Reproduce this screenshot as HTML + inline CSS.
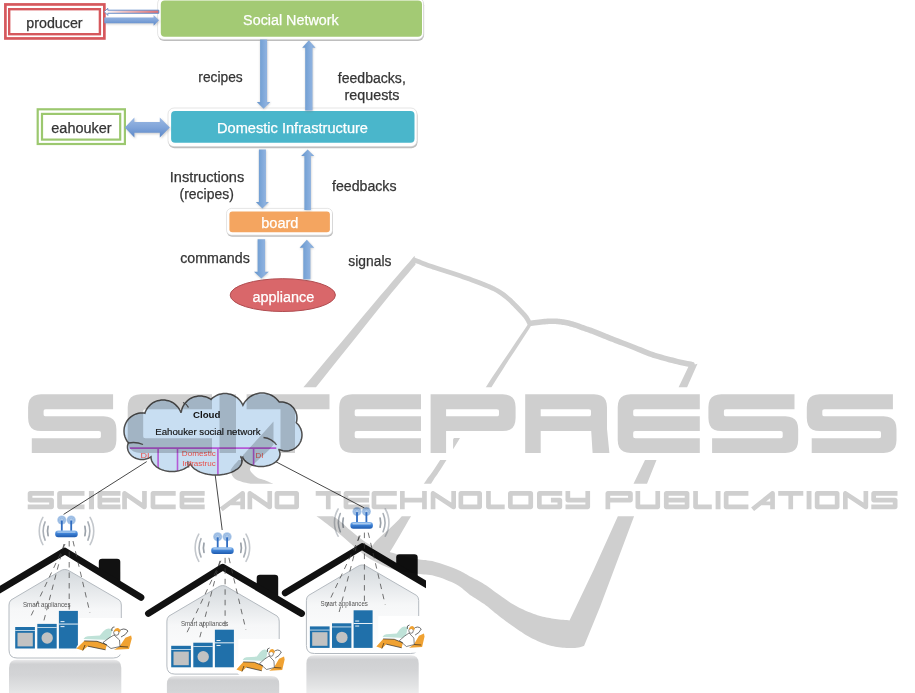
<!DOCTYPE html>
<html><head><meta charset="utf-8"><title>figure</title>
<style>
html,body{margin:0;padding:0;background:#fff;}
body{width:915px;height:693px;overflow:hidden;position:relative;}
svg{position:absolute;left:0;top:0;display:block;}
text{font-family:"Liberation Sans",sans-serif;}
#wm{mix-blend-mode:multiply;}
</style></head>
<body>
<svg width="915" height="693" viewBox="0 0 915 693">
<defs>
<filter id="blur1" x="-20%" y="-20%" width="140%" height="140%"><feGaussianBlur stdDeviation="0.8"/></filter>
<filter id="blur06" x="-20%" y="-20%" width="140%" height="140%"><feGaussianBlur stdDeviation="0.6"/></filter>
<linearGradient id="gArrV" x1="0" y1="0" x2="1" y2="0">
  <stop offset="0" stop-color="#6593CC"/><stop offset="0.3" stop-color="#76A2D5"/><stop offset="0.7" stop-color="#8DB1DF"/><stop offset="0.9" stop-color="#80A9DA"/><stop offset="1" stop-color="#6E9AD0"/>
</linearGradient>
<linearGradient id="gArrH" x1="0" y1="0" x2="0" y2="1">
  <stop offset="0" stop-color="#9CB9E3"/><stop offset="0.5" stop-color="#80A4D9"/><stop offset="1" stop-color="#5A87C8"/>
</linearGradient>
<linearGradient id="gArrPink" x1="0" y1="0" x2="1" y2="0">
  <stop offset="0" stop-color="#ffffff"/><stop offset="0.35" stop-color="#F2C4C4"/><stop offset="1" stop-color="#DE6F72"/>
</linearGradient>

<linearGradient id="gRouter" x1="0" y1="0" x2="0" y2="1">
  <stop offset="0" stop-color="#8DBBEE"/><stop offset="0.45" stop-color="#3E82D6"/><stop offset="1" stop-color="#1E5AAE"/>
</linearGradient>
<linearGradient id="gBody" x1="0" y1="0" x2="0" y2="1">
  <stop offset="0" stop-color="#D3D8DC"/><stop offset="0.45" stop-color="#F6F7F8"/><stop offset="1" stop-color="#FFFFFF"/>
</linearGradient>
<linearGradient id="gRefl" x1="0" y1="0" x2="0" y2="1">
  <stop offset="0" stop-color="#E9E9EA"/><stop offset="0.1" stop-color="#CFD0D2"/><stop offset="0.35" stop-color="#D3D4D6"/><stop offset="0.7" stop-color="#E2E3E4"/><stop offset="1" stop-color="#F3F3F3"/>
</linearGradient>
</defs>
<g id="top">
<rect x="5.4" y="4.45" width="98.95" height="34" fill="none" stroke="#D6585D" stroke-width="2.7"/>
<rect x="9.2" y="9.2" width="90.7" height="25" fill="none" stroke="#D6585D" stroke-width="2.4"/>
<rect x="158.1" y="-0.7" width="266" height="41.7" rx="6" fill="#8a8a8a" opacity="0.55" filter="url(#blur06)"/>
<rect x="157.6" y="-2.3" width="266" height="41.7" rx="6" fill="#fff" stroke="#D4D4D4" stroke-width="0.6"/>
<rect x="160.8" y="0.6" width="261.2" height="36.1" rx="4" fill="#A3CA74"/>
<rect x="37.7" y="109.3" width="87.2" height="34.7" fill="none" stroke="#9CC86F" stroke-width="2.2"/>
<rect x="42.0" y="113.9" width="78.2" height="25.7" fill="none" stroke="#9CC86F" stroke-width="2.2"/>
<rect x="168.5" y="109.6" width="249" height="38.6" rx="6" fill="#8a8a8a" opacity="0.55" filter="url(#blur06)"/>
<rect x="168" y="108" width="249" height="38.6" rx="6" fill="#fff" stroke="#D4D4D4" stroke-width="0.6"/>
<rect x="171.1" y="110.9" width="243.4" height="31.9" rx="4" fill="#4AB6CB"/>
<rect x="227.0" y="210.0" width="106" height="26.8" rx="5" fill="#8a8a8a" opacity="0.55" filter="url(#blur06)"/>
<rect x="226.5" y="208.4" width="106" height="26.8" rx="5" fill="#fff" stroke="#D4D4D4" stroke-width="0.6"/>
<rect x="229.4" y="211.4" width="100.5" height="20.9" rx="3" fill="#F4A560"/>
<ellipse cx="282.8" cy="295.1" rx="52.6" ry="16.4" fill="#D9676A" stroke="#B04C50" stroke-width="1"/>
<polygon points="104.3,11.7 107.8,8.3 107.8,10.2 158.8,10.2 158.8,13.3 107.8,13.3 107.8,15.4" fill="url(#gArrPink)" stroke="#5B86C5" stroke-width="0.9"/>
<polygon points="105.3,18.5 154.6,18.5 154.6,16 160,21.3 154.6,26.7 154.6,24.2 105.3,24.2" fill="#777" opacity="0.35" filter="url(#blur1)"/>
<polygon points="104.3,17.5 153.6,17.5 153.6,15 159,20.3 153.6,25.7 153.6,23.2 104.3,23.2" fill="url(#gArrH)"/>
<polygon points="260.40,40.40 267.40,40.40 267.40,102.70 270.65,102.70 263.90,109.60 257.15,102.70 260.40,102.70" fill="#7a7a7a" opacity="0.4" filter="url(#blur1)"/><polygon points="260.10,39.60 267.10,39.60 267.10,101.90 270.35,101.90 263.60,108.80 256.85,101.90 260.10,101.90" fill="url(#gArrV)"/>
<polygon points="305.50,111.40 312.80,111.40 312.80,48.50 315.80,48.50 309.15,41.00 302.50,48.50 305.50,48.50" fill="#7a7a7a" opacity="0.4" filter="url(#blur1)"/><polygon points="305.20,110.60 312.50,110.60 312.50,47.70 315.50,47.70 308.85,40.20 302.20,47.70 305.20,47.70" fill="url(#gArrV)"/>
<polygon points="124.8,127.5 134.4,117.5 134.4,121.9 159.8,121.9 159.8,117.5 169.8,127.5 159.8,137.6 159.8,132.8 134.4,132.8 134.4,137.6" fill="#777" opacity="0.35" transform="translate(1,1.2)" filter="url(#blur1)"/>
<polygon points="124.8,127.5 134.4,117.5 134.4,121.9 159.8,121.9 159.8,117.5 169.8,127.5 159.8,137.6 159.8,132.8 134.4,132.8 134.4,137.6" fill="url(#gArrH)"/>
<polygon points="259.20,150.20 266.20,150.20 266.20,202.80 269.20,202.80 262.70,209.30 256.20,202.80 259.20,202.80" fill="#7a7a7a" opacity="0.4" filter="url(#blur1)"/><polygon points="258.90,149.40 265.90,149.40 265.90,202.00 268.90,202.00 262.40,208.50 255.90,202.00 258.90,202.00" fill="url(#gArrV)"/>
<polygon points="304.70,210.80 311.20,210.80 311.20,156.70 314.45,156.70 307.95,150.20 301.45,156.70 304.70,156.70" fill="#7a7a7a" opacity="0.4" filter="url(#blur1)"/><polygon points="304.40,210.00 310.90,210.00 310.90,155.90 314.15,155.90 307.65,149.40 301.15,155.90 304.40,155.90" fill="url(#gArrV)"/>
<polygon points="257.90,240.10 265.40,240.10 265.40,272.50 269.00,272.50 261.65,279.30 254.30,272.50 257.90,272.50" fill="#7a7a7a" opacity="0.4" filter="url(#blur1)"/><polygon points="257.60,239.30 265.10,239.30 265.10,271.70 268.70,271.70 261.35,278.50 254.00,271.70 257.60,271.70" fill="url(#gArrV)"/>
<polygon points="303.60,280.00 310.70,280.00 310.70,248.60 314.40,248.60 307.15,240.60 299.90,248.60 303.60,248.60" fill="#7a7a7a" opacity="0.4" filter="url(#blur1)"/><polygon points="303.30,279.20 310.40,279.20 310.40,247.80 314.10,247.80 306.85,239.80 299.60,247.80 303.30,247.80" fill="url(#gArrV)"/>
<text x="26.30" y="27.50" font-size="14" fill="#353535" stroke="#353535" stroke-width="0.25" font-weight="normal" textLength="56.30" lengthAdjust="spacingAndGlyphs">producer</text>
<text x="243.10" y="24.80" font-size="14" fill="#ffffff" stroke="#ffffff" stroke-width="0.25" font-weight="normal" textLength="95.60" lengthAdjust="spacingAndGlyphs">Social Network</text>
<text x="198.30" y="81.60" font-size="14" fill="#353535" stroke="#353535" stroke-width="0.25" font-weight="normal" textLength="44.40" lengthAdjust="spacingAndGlyphs">recipes</text>
<text x="337.80" y="82.80" font-size="14" fill="#353535" stroke="#353535" stroke-width="0.25" font-weight="normal" textLength="68.00" lengthAdjust="spacingAndGlyphs">feedbacks,</text>
<text x="344.60" y="100.30" font-size="14" fill="#353535" stroke="#353535" stroke-width="0.25" font-weight="normal" textLength="54.90" lengthAdjust="spacingAndGlyphs">requests</text>
<text x="51.30" y="132.80" font-size="14" fill="#353535" stroke="#353535" stroke-width="0.25" font-weight="normal" textLength="60.40" lengthAdjust="spacingAndGlyphs">eahouker</text>
<text x="217.00" y="133.00" font-size="14" fill="#ffffff" stroke="#ffffff" stroke-width="0.25" font-weight="normal" textLength="151.00" lengthAdjust="spacingAndGlyphs">Domestic Infrastructure</text>
<text x="169.80" y="181.90" font-size="14" fill="#353535" stroke="#353535" stroke-width="0.25" font-weight="normal" textLength="74.40" lengthAdjust="spacingAndGlyphs">Instructions</text>
<text x="179.60" y="198.80" font-size="14" fill="#353535" stroke="#353535" stroke-width="0.25" font-weight="normal" textLength="54.20" lengthAdjust="spacingAndGlyphs">(recipes)</text>
<text x="332.00" y="190.70" font-size="14" fill="#353535" stroke="#353535" stroke-width="0.25" font-weight="normal" textLength="64.50" lengthAdjust="spacingAndGlyphs">feedbacks</text>
<text x="261.20" y="227.70" font-size="14" fill="#ffffff" stroke="#ffffff" stroke-width="0.25" font-weight="normal" textLength="37.30" lengthAdjust="spacingAndGlyphs">board</text>
<text x="180.20" y="262.70" font-size="14" fill="#353535" stroke="#353535" stroke-width="0.25" font-weight="normal" textLength="69.60" lengthAdjust="spacingAndGlyphs">commands</text>
<text x="348.30" y="265.70" font-size="14" fill="#353535" stroke="#353535" stroke-width="0.25" font-weight="normal" textLength="43.10" lengthAdjust="spacingAndGlyphs">signals</text>
<text x="252.40" y="301.70" font-size="14" fill="#ffffff" stroke="#ffffff" stroke-width="0.25" font-weight="normal" textLength="61.80" lengthAdjust="spacingAndGlyphs">appliance</text>
</g>
<g id="bottom">
<clipPath id="photoClip"><rect x="0" y="372" width="426" height="321"/></clipPath>
<g clip-path="url(#photoClip)">
<g stroke="#333" stroke-width="0.9" fill="none"><path d="M146.7,461.6 L63.6,514.4"/><path d="M215.2,474.9 L222.2,530"/><path d="M273.3,460.4 L364.7,508.1"/></g>
<path d="M166.9,684.1 Q166.9,675.9 174.9,675.9 H271.2 Q279.2,675.9 279.2,684.1 V719.1 H166.9Z" fill="url(#gRefl)"/>
<path d="M217.7,587.3 Q222.7,583.8 227.7,587.3 L277.2,616.1 Q279.2,618.1 279.2,621.1 V666.1 Q279.2,674.1 271.2,674.1 H174.9 Q166.9,674.1 166.9,666.1 V621.1 Q166.9,618.1 168.9,616.1 Z" fill="url(#gBody)" stroke="#B4BAC0" stroke-width="1"/>
<path d="M256.7,587.1 V578.1 Q256.7,574.8 260.0,574.8 H274.9 Q278.2,574.8 278.2,578.1 V599.7Z" fill="#111"/>
<path d="M148.4,613.5 L222.7,567.1 L301.6,613.5" stroke="#111" stroke-width="6.7" fill="none" stroke-linecap="round" stroke-linejoin="round"/>
<path d="M220.9,560.8 L185.9,634.8" stroke="#444" stroke-width="0.75" stroke-dasharray="5.5,5" fill="none"/>
<path d="M219.9,560.8 L198.9,640.8" stroke="#444" stroke-width="0.75" stroke-dasharray="5.5,5" fill="none"/>
<path d="M225.1,557.8 L225.1,628.8" stroke="#444" stroke-width="0.75" stroke-dasharray="5.5,5" fill="none"/>
<path d="M228.9,557.8 L245.9,629.8" stroke="#444" stroke-width="0.75" stroke-dasharray="5.5,5" fill="none"/>
<text x="180.9" y="626.3" font-size="7.6" fill="#555" textLength="47.5" lengthAdjust="spacingAndGlyphs">Smart appliances</text>
<g><rect x="171.2" y="645.8" width="19.7" height="21.5" fill="#2070AA"/><rect x="173.5" y="651.6" width="15.3" height="13.6" fill="#C2C2C2"/><rect x="171.2" y="649.1" width="19.7" height="0.7" fill="#fff"/><rect x="193.3" y="642.7" width="19.4" height="24.6" fill="#2070AA"/><rect x="193.3" y="646.0" width="19.4" height="0.7" fill="#fff"/><circle cx="203.2" cy="656.8" r="5.7" fill="#C2C2C2"/><rect x="214.9" y="629.7" width="19" height="37.6" fill="#2070AA"/><rect x="214.9" y="642.4" width="19" height="0.9" fill="#fff"/><rect x="216.5" y="640.0" width="4" height="0.9" fill="#fff"/><rect x="216.5" y="645.0" width="4" height="0.9" fill="#fff"/></g>
<g transform="translate(236.1,659.0) scale(0.87,1)"><path d="M2.6,-20 H57 V15 Q50,18 40,16 H4 Q0,14 0.5,9 L2.6,6 Z" fill="#fff"/><path d="M7.5,1 Q9,-1.5 11.8,-1.7 L23.8,-2.4 L27.4,-6.7 Q30,-9.5 32.4,-9.5 L36.6,-8.8 L33.8,1.9 Z" fill="#BFE2D8"/><path d="M0.4,10.4 L8.2,2.9 L21,3.3 L30.9,6.8 L29.5,11.8 L11.8,8.2 L6.8,12.5 Z" fill="#F0A232"/><path d="M38,11.8 L43.7,8.2 L49.4,-0.3 L55.1,-2.4 L55.8,0.4 L53,11.1 Z" fill="#F0A232"/><path d="M27,4.5 L33,0 L38,-3 L43.5,2 L44,8.5 L35,10.5 Z" fill="#fff" stroke="#222" stroke-width="0.6"/><path d="M8.2,2.9 L21,3.3 L30.9,6.8 M11.8,8.2 L29.5,11.8 M6.8,12.5 L9,7 M36,-7 Q35,-11 38.5,-11 M43,-7 Q48,-11 52,-7 Q50,-3 45,-1 M44,8.5 L52,9" stroke="#222" stroke-width="0.7" fill="none"/><circle cx="40.3" cy="-5.3" r="2.6" fill="#fff" stroke="#222" stroke-width="0.6"/><path d="M37.8,-7 Q39,-10.5 42.5,-9.8 Q45,-8.5 44,-5.5 Q42,-8 38.5,-6.5 Z" fill="#F0A232"/></g>
<path d="M204.0,543.2 A19.0,19.0 0 0 0 204.0,552.4" stroke="#9AA1A9" stroke-width="1.7" fill="none" stroke-linecap="round"/>
<path d="M240.8,543.2 A19.0,19.0 0 0 1 240.8,552.4" stroke="#9AA1A9" stroke-width="1.7" fill="none" stroke-linecap="round"/>
<path d="M201.0,538.7 A23.2,23.2 0 0 0 201.0,556.9" stroke="#A9AFB6" stroke-width="1.6" fill="none" stroke-linecap="round"/>
<path d="M243.8,538.7 A23.2,23.2 0 0 1 243.8,556.9" stroke="#A9AFB6" stroke-width="1.6" fill="none" stroke-linecap="round"/>
<path d="M198.8,534.2 A27.2,27.2 0 0 0 198.8,561.4" stroke="#C3C7CC" stroke-width="1.6" fill="none" stroke-linecap="round"/>
<path d="M246.0,534.2 A27.2,27.2 0 0 1 246.0,561.4" stroke="#C3C7CC" stroke-width="1.6" fill="none" stroke-linecap="round"/>
<circle cx="217.7" cy="536.8" r="4.6" fill="#B3CDEB"/>
<circle cx="217.7" cy="536.8" r="3.4" fill="none" stroke="#86ADDC" stroke-width="0.7"/>
<circle cx="217.7" cy="536.8" r="2.0" fill="none" stroke="#86ADDC" stroke-width="0.7"/>
<rect x="216.8" y="537.3" width="1.8" height="10.5" fill="#2F6CC0"/>
<circle cx="227.1" cy="536.8" r="4.6" fill="#B3CDEB"/>
<circle cx="227.1" cy="536.8" r="3.4" fill="none" stroke="#86ADDC" stroke-width="0.7"/>
<circle cx="227.1" cy="536.8" r="2.0" fill="none" stroke="#86ADDC" stroke-width="0.7"/>
<rect x="226.2" y="537.3" width="1.8" height="10.5" fill="#2F6CC0"/>
<rect x="211.2" y="547.2" width="22.5" height="6.8" rx="3" fill="url(#gRouter)"/>
<rect x="213.2" y="548.2" width="18.5" height="1.4" rx="0.7" fill="#B9D4F2" opacity="0.8"/>
<path d="M9.0,668.0 Q9.0,659.8 17.0,659.8 H113.3 Q121.3,659.8 121.3,668.0 V703.0 H9.0Z" fill="url(#gRefl)"/>
<path d="M59.8,571.2 Q64.8,567.7 69.8,571.2 L119.3,600.0 Q121.3,602.0 121.3,605.0 V650.0 Q121.3,658.0 113.3,658.0 H17.0 Q9.0,658.0 9.0,650.0 V605.0 Q9.0,602.0 11.0,600.0 Z" fill="url(#gBody)" stroke="#B4BAC0" stroke-width="1"/>
<path d="M98.8,571.7 V562.0 Q98.8,558.7 102.1,558.7 H117.0 Q120.3,558.7 120.3,562.0 V584.8Z" fill="#111"/>
<path d="M-13.2,597.4 L64.8,551.0 L141.0,597.4" stroke="#111" stroke-width="6.7" fill="none" stroke-linecap="round" stroke-linejoin="round"/>
<path d="M65.0,544.0 L30.0,618.0" stroke="#444" stroke-width="0.75" stroke-dasharray="5.5,5" fill="none"/>
<path d="M64.0,544.0 L43.0,624.0" stroke="#444" stroke-width="0.75" stroke-dasharray="5.5,5" fill="none"/>
<path d="M69.2,541.0 L69.2,612.0" stroke="#444" stroke-width="0.75" stroke-dasharray="5.5,5" fill="none"/>
<path d="M73.0,541.0 L90.0,613.0" stroke="#444" stroke-width="0.75" stroke-dasharray="5.5,5" fill="none"/>
<text x="23.0" y="606.7" font-size="7.6" fill="#555" textLength="47.5" lengthAdjust="spacingAndGlyphs">Smart appliances</text>
<g><rect x="15.2" y="627.0" width="19.7" height="21.5" fill="#2070AA"/><rect x="17.5" y="632.8" width="15.3" height="13.6" fill="#C2C2C2"/><rect x="15.2" y="630.3" width="19.7" height="0.7" fill="#fff"/><rect x="37.3" y="623.9" width="19.4" height="24.6" fill="#2070AA"/><rect x="37.3" y="627.2" width="19.4" height="0.7" fill="#fff"/><circle cx="47.2" cy="638.0" r="5.7" fill="#C2C2C2"/><rect x="58.9" y="610.9" width="19" height="37.6" fill="#2070AA"/><rect x="58.9" y="623.6" width="19" height="0.9" fill="#fff"/><rect x="60.5" y="621.2" width="4" height="0.9" fill="#fff"/><rect x="60.5" y="626.2" width="4" height="0.9" fill="#fff"/></g>
<g transform="translate(76.0,638.0) scale(1.0,1)"><path d="M2.6,-20 H57 V15 Q50,18 40,16 H4 Q0,14 0.5,9 L2.6,6 Z" fill="#fff"/><path d="M7.5,1 Q9,-1.5 11.8,-1.7 L23.8,-2.4 L27.4,-6.7 Q30,-9.5 32.4,-9.5 L36.6,-8.8 L33.8,1.9 Z" fill="#BFE2D8"/><path d="M0.4,10.4 L8.2,2.9 L21,3.3 L30.9,6.8 L29.5,11.8 L11.8,8.2 L6.8,12.5 Z" fill="#F0A232"/><path d="M38,11.8 L43.7,8.2 L49.4,-0.3 L55.1,-2.4 L55.8,0.4 L53,11.1 Z" fill="#F0A232"/><path d="M27,4.5 L33,0 L38,-3 L43.5,2 L44,8.5 L35,10.5 Z" fill="#fff" stroke="#222" stroke-width="0.6"/><path d="M8.2,2.9 L21,3.3 L30.9,6.8 M11.8,8.2 L29.5,11.8 M6.8,12.5 L9,7 M36,-7 Q35,-11 38.5,-11 M43,-7 Q48,-11 52,-7 Q50,-3 45,-1 M44,8.5 L52,9" stroke="#222" stroke-width="0.7" fill="none"/><circle cx="40.3" cy="-5.3" r="2.6" fill="#fff" stroke="#222" stroke-width="0.6"/><path d="M37.8,-7 Q39,-10.5 42.5,-9.8 Q45,-8.5 44,-5.5 Q42,-8 38.5,-6.5 Z" fill="#F0A232"/></g>
<path d="M48.1,526.4 A19.0,19.0 0 0 0 48.1,535.6" stroke="#9AA1A9" stroke-width="1.7" fill="none" stroke-linecap="round"/>
<path d="M84.9,526.4 A19.0,19.0 0 0 1 84.9,535.6" stroke="#9AA1A9" stroke-width="1.7" fill="none" stroke-linecap="round"/>
<path d="M45.1,521.9 A23.2,23.2 0 0 0 45.1,540.1" stroke="#A9AFB6" stroke-width="1.6" fill="none" stroke-linecap="round"/>
<path d="M87.9,521.9 A23.2,23.2 0 0 1 87.9,540.1" stroke="#A9AFB6" stroke-width="1.6" fill="none" stroke-linecap="round"/>
<path d="M42.9,517.4 A27.2,27.2 0 0 0 42.9,544.6" stroke="#C3C7CC" stroke-width="1.6" fill="none" stroke-linecap="round"/>
<path d="M90.1,517.4 A27.2,27.2 0 0 1 90.1,544.6" stroke="#C3C7CC" stroke-width="1.6" fill="none" stroke-linecap="round"/>
<circle cx="61.8" cy="520.0" r="4.6" fill="#B3CDEB"/>
<circle cx="61.8" cy="520.0" r="3.4" fill="none" stroke="#86ADDC" stroke-width="0.7"/>
<circle cx="61.8" cy="520.0" r="2.0" fill="none" stroke="#86ADDC" stroke-width="0.7"/>
<rect x="60.9" y="520.5" width="1.8" height="10.5" fill="#2F6CC0"/>
<circle cx="71.2" cy="520.0" r="4.6" fill="#B3CDEB"/>
<circle cx="71.2" cy="520.0" r="3.4" fill="none" stroke="#86ADDC" stroke-width="0.7"/>
<circle cx="71.2" cy="520.0" r="2.0" fill="none" stroke="#86ADDC" stroke-width="0.7"/>
<rect x="70.3" y="520.5" width="1.8" height="10.5" fill="#2F6CC0"/>
<rect x="55.2" y="530.4" width="22.5" height="6.8" rx="3" fill="url(#gRouter)"/>
<rect x="57.2" y="531.4" width="18.5" height="1.4" rx="0.7" fill="#B9D4F2" opacity="0.8"/>
<path d="M306.4,663.5 Q306.4,655.3 314.4,655.3 H410.7 Q418.7,655.3 418.7,663.5 V698.5 H306.4Z" fill="url(#gRefl)"/>
<path d="M357.2,566.7 Q362.2,563.2 367.2,566.7 L416.7,595.5 Q418.7,597.5 418.7,600.5 V645.5 Q418.7,653.5 410.7,653.5 H314.4 Q306.4,653.5 306.4,645.5 V600.5 Q306.4,597.5 308.4,595.5 Z" fill="url(#gBody)" stroke="#B4BAC0" stroke-width="1"/>
<path d="M396.2,566.7 V557.5 Q396.2,554.2 399.5,554.2 H414.4 Q417.7,554.2 417.7,557.5 V579.5Z" fill="#111"/>
<path d="M285.2,592.9 L362.2,546.5 L440.2,592.9" stroke="#111" stroke-width="6.7" fill="none" stroke-linecap="round" stroke-linejoin="round"/>
<path d="M360.2,535.6 L325.2,609.6" stroke="#444" stroke-width="0.75" stroke-dasharray="5.5,5" fill="none"/>
<path d="M359.2,535.6 L338.2,615.6" stroke="#444" stroke-width="0.75" stroke-dasharray="5.5,5" fill="none"/>
<path d="M364.4,532.6 L364.4,603.6" stroke="#444" stroke-width="0.75" stroke-dasharray="5.5,5" fill="none"/>
<path d="M368.2,532.6 L385.2,604.6" stroke="#444" stroke-width="0.75" stroke-dasharray="5.5,5" fill="none"/>
<text x="320.4" y="606.3" font-size="7.6" fill="#555" textLength="47.5" lengthAdjust="spacingAndGlyphs">Smart appliances</text>
<g><rect x="309.9" y="626.4" width="19.7" height="21.5" fill="#2070AA"/><rect x="312.2" y="632.2" width="15.3" height="13.6" fill="#C2C2C2"/><rect x="309.9" y="629.7" width="19.7" height="0.7" fill="#fff"/><rect x="332.0" y="623.3" width="19.4" height="24.6" fill="#2070AA"/><rect x="332.0" y="626.6" width="19.4" height="0.7" fill="#fff"/><circle cx="341.9" cy="637.4" r="5.7" fill="#C2C2C2"/><rect x="353.6" y="610.3" width="19" height="37.6" fill="#2070AA"/><rect x="353.6" y="623.0" width="19" height="0.9" fill="#fff"/><rect x="355.2" y="620.6" width="4" height="0.9" fill="#fff"/><rect x="355.2" y="625.6" width="4" height="0.9" fill="#fff"/></g>
<g transform="translate(376.0,636.0) scale(0.87,1)"><path d="M2.6,-20 H57 V15 Q50,18 40,16 H4 Q0,14 0.5,9 L2.6,6 Z" fill="#fff"/><path d="M7.5,1 Q9,-1.5 11.8,-1.7 L23.8,-2.4 L27.4,-6.7 Q30,-9.5 32.4,-9.5 L36.6,-8.8 L33.8,1.9 Z" fill="#BFE2D8"/><path d="M0.4,10.4 L8.2,2.9 L21,3.3 L30.9,6.8 L29.5,11.8 L11.8,8.2 L6.8,12.5 Z" fill="#F0A232"/><path d="M38,11.8 L43.7,8.2 L49.4,-0.3 L55.1,-2.4 L55.8,0.4 L53,11.1 Z" fill="#F0A232"/><path d="M27,4.5 L33,0 L38,-3 L43.5,2 L44,8.5 L35,10.5 Z" fill="#fff" stroke="#222" stroke-width="0.6"/><path d="M8.2,2.9 L21,3.3 L30.9,6.8 M11.8,8.2 L29.5,11.8 M6.8,12.5 L9,7 M36,-7 Q35,-11 38.5,-11 M43,-7 Q48,-11 52,-7 Q50,-3 45,-1 M44,8.5 L52,9" stroke="#222" stroke-width="0.7" fill="none"/><circle cx="40.3" cy="-5.3" r="2.6" fill="#fff" stroke="#222" stroke-width="0.6"/><path d="M37.8,-7 Q39,-10.5 42.5,-9.8 Q45,-8.5 44,-5.5 Q42,-8 38.5,-6.5 Z" fill="#F0A232"/></g>
<path d="M343.3,518.0 A19.0,19.0 0 0 0 343.3,527.2" stroke="#9AA1A9" stroke-width="1.7" fill="none" stroke-linecap="round"/>
<path d="M380.1,518.0 A19.0,19.0 0 0 1 380.1,527.2" stroke="#9AA1A9" stroke-width="1.7" fill="none" stroke-linecap="round"/>
<path d="M340.3,513.5 A23.2,23.2 0 0 0 340.3,531.7" stroke="#A9AFB6" stroke-width="1.6" fill="none" stroke-linecap="round"/>
<path d="M383.1,513.5 A23.2,23.2 0 0 1 383.1,531.7" stroke="#A9AFB6" stroke-width="1.6" fill="none" stroke-linecap="round"/>
<path d="M338.1,509.0 A27.2,27.2 0 0 0 338.1,536.2" stroke="#C3C7CC" stroke-width="1.6" fill="none" stroke-linecap="round"/>
<path d="M385.3,509.0 A27.2,27.2 0 0 1 385.3,536.2" stroke="#C3C7CC" stroke-width="1.6" fill="none" stroke-linecap="round"/>
<circle cx="357.0" cy="511.6" r="4.6" fill="#B3CDEB"/>
<circle cx="357.0" cy="511.6" r="3.4" fill="none" stroke="#86ADDC" stroke-width="0.7"/>
<circle cx="357.0" cy="511.6" r="2.0" fill="none" stroke="#86ADDC" stroke-width="0.7"/>
<rect x="356.1" y="512.1" width="1.8" height="10.5" fill="#2F6CC0"/>
<circle cx="366.4" cy="511.6" r="4.6" fill="#B3CDEB"/>
<circle cx="366.4" cy="511.6" r="3.4" fill="none" stroke="#86ADDC" stroke-width="0.7"/>
<circle cx="366.4" cy="511.6" r="2.0" fill="none" stroke="#86ADDC" stroke-width="0.7"/>
<rect x="365.5" y="512.1" width="1.8" height="10.5" fill="#2F6CC0"/>
<rect x="350.4" y="522.0" width="22.5" height="6.8" rx="3" fill="url(#gRouter)"/>
<rect x="352.4" y="523.0" width="18.5" height="1.4" rx="0.7" fill="#B9D4F2" opacity="0.8"/>
<clipPath id="cloudClip"><path d="M210.6,399.2 209.0,398.2 207.3,397.4 205.5,396.8 203.7,396.4 201.9,396.1 200.0,396.0 198.1,396.1 196.3,396.4 194.5,396.8 192.7,397.4 191.0,398.2 189.4,399.2 187.9,400.3 186.6,401.6 185.3,402.9 184.2,404.4 183.2,406.0 182.4,407.7 181.8,409.5 181.4,411.3 181.3,412.0 180.7,412.1 180.6,411.7 179.8,410.0 178.8,408.4 177.7,406.9 176.4,405.6 175.1,404.3 173.6,403.2 172.0,402.2 170.3,401.4 168.5,400.8 166.7,400.4 164.9,400.1 163.0,400.0 161.1,400.1 159.3,400.4 157.5,400.8 155.7,401.4 154.0,402.2 152.4,403.2 150.9,404.3 149.6,405.6 148.3,406.9 147.2,408.4 146.2,410.0 145.4,411.7 144.9,413.3 143.8,413.1 142.0,413.0 140.2,413.1 138.5,413.3 136.8,413.8 135.1,414.4 133.5,415.1 132.0,416.0 130.6,417.1 129.3,418.3 128.1,419.6 127.0,421.0 126.1,422.5 125.4,424.1 124.8,425.8 124.3,427.5 124.1,429.2 124.0,431.0 124.1,432.8 124.3,434.5 124.8,436.2 125.4,437.9 126.1,439.5 127.0,441.0 128.1,442.4 128.4,442.7 128.3,443.0 128.0,443.8 127.8,444.6 127.6,445.4 127.5,446.2 127.5,447.0 127.5,447.8 127.6,448.6 127.8,449.4 128.0,450.2 128.3,451.0 128.6,451.8 129.0,452.5 129.4,453.2 129.9,453.9 130.5,454.6 131.1,455.2 131.7,455.8 132.4,456.4 133.2,456.9 133.9,457.4 134.8,457.8 135.6,458.2 136.5,458.5 137.3,458.8 138.2,459.1 139.2,459.3 140.1,459.4 141.1,459.5 142.0,459.5 142.9,459.5 143.9,459.4 144.8,459.3 145.8,459.1 146.7,458.8 147.5,458.5 148.4,458.2 149.2,457.8 150.1,457.4 150.8,456.9 151.0,456.8 151.0,457.0 151.0,457.9 151.2,458.9 151.4,459.8 151.7,460.8 152.1,461.7 152.6,462.5 153.2,463.4 153.8,464.2 154.5,465.1 155.3,465.8 156.2,466.6 157.2,467.3 158.2,467.9 159.2,468.5 160.3,469.1 161.5,469.6 162.7,470.0 164.0,470.4 165.2,470.7 166.6,471.0 167.9,471.2 169.3,471.4 170.6,471.5 172.0,471.5 173.4,471.5 174.7,471.4 176.1,471.2 177.4,471.0 178.8,470.7 180.0,470.4 181.3,470.0 182.5,469.6 183.7,469.1 184.8,468.5 185.8,467.9 186.8,467.3 187.8,466.6 188.7,465.8 189.5,465.1 190.2,464.2 190.5,463.8 190.9,464.6 191.4,465.5 192.0,466.4 192.7,467.2 193.5,468.0 194.4,468.8 195.4,469.5 196.5,470.2 197.6,470.9 198.9,471.5 200.2,472.1 201.6,472.6 203.0,473.1 204.5,473.6 206.1,473.9 207.6,474.3 209.3,474.5 210.9,474.7 212.6,474.9 214.3,475.0 216.0,475.0 217.7,475.0 219.4,474.9 221.1,474.7 222.7,474.5 224.4,474.3 225.9,473.9 227.5,473.6 229.0,473.1 230.4,472.6 231.8,472.1 233.1,471.5 234.4,470.9 235.5,470.2 236.6,469.5 237.6,468.8 238.5,468.0 239.3,467.2 240.0,466.4 240.6,465.5 241.1,464.6 241.5,463.7 241.8,462.8 241.9,461.9 242.0,461.0 241.9,460.1 241.8,459.2 241.5,458.3 241.2,457.6 242.6,457.1 242.6,457.2 243.0,458.0 243.4,458.8 244.0,459.5 244.5,460.2 245.2,460.9 245.9,461.6 246.7,462.2 247.6,462.8 248.5,463.4 249.4,463.9 250.4,464.4 251.5,464.8 252.6,465.2 253.7,465.5 254.9,465.8 256.1,466.1 257.3,466.3 258.5,466.4 259.8,466.5 261.0,466.5 262.2,466.5 263.5,466.4 264.7,466.3 265.9,466.1 267.1,465.8 268.3,465.5 269.4,465.2 270.5,464.8 271.6,464.4 272.6,463.9 273.5,463.4 274.4,462.8 275.3,462.2 276.1,461.6 276.8,460.9 277.5,460.2 278.0,459.5 278.6,458.8 279.0,458.0 279.4,457.2 279.6,456.4 279.8,455.6 280.0,454.8 280.0,454.0 280.0,453.2 279.8,452.4 279.6,451.6 279.4,450.8 279.0,450.0 278.6,449.2 278.5,449.1 279.9,449.8 281.4,450.3 282.9,450.7 284.4,450.9 286.0,451.0 287.6,450.9 289.1,450.7 290.6,450.3 292.1,449.8 293.5,449.1 294.9,448.3 296.2,447.4 297.3,446.3 298.4,445.2 299.3,443.9 300.1,442.5 300.8,441.1 301.3,439.6 301.7,438.1 301.9,436.6 302.0,435.0 301.9,433.4 301.7,431.9 301.3,430.4 300.8,428.9 300.1,427.5 299.3,426.1 298.4,424.8 297.3,423.7 296.3,422.7 296.3,422.6 296.7,421.1 296.9,419.6 297.0,418.0 296.9,416.4 296.7,414.9 296.3,413.4 295.8,411.9 295.1,410.5 294.3,409.1 293.4,407.8 292.3,406.7 291.2,405.6 289.9,404.7 288.5,403.9 287.1,403.2 285.6,402.7 284.1,402.3 282.6,402.1 281.0,402.0 279.4,402.1 279.3,402.1 278.2,400.7 276.8,399.2 275.3,397.8 273.7,396.5 271.9,395.5 270.0,394.6 268.1,393.9 266.1,393.4 264.1,393.1 262.0,393.0 259.9,393.1 257.9,393.4 255.9,393.9 254.0,394.6 252.1,395.5 250.3,396.5 248.7,397.8 247.2,399.2 245.8,400.7 244.5,402.3 243.5,404.1 242.9,405.3 242.2,403.8 241.2,402.2 240.1,400.6 238.8,399.2 237.4,397.9 235.8,396.8 234.2,395.8 232.5,395.0 230.7,394.3 228.8,393.9 226.9,393.6 225.0,393.5 223.1,393.6 221.2,393.9 219.3,394.3 217.5,395.0 215.8,395.8 214.2,396.8 212.6,397.9 211.2,399.2 211.0,399.5Z"/></clipPath>
<path d="M210.6,399.2 209.0,398.2 207.3,397.4 205.5,396.8 203.7,396.4 201.9,396.1 200.0,396.0 198.1,396.1 196.3,396.4 194.5,396.8 192.7,397.4 191.0,398.2 189.4,399.2 187.9,400.3 186.6,401.6 185.3,402.9 184.2,404.4 183.2,406.0 182.4,407.7 181.8,409.5 181.4,411.3 181.3,412.0 180.7,412.1 180.6,411.7 179.8,410.0 178.8,408.4 177.7,406.9 176.4,405.6 175.1,404.3 173.6,403.2 172.0,402.2 170.3,401.4 168.5,400.8 166.7,400.4 164.9,400.1 163.0,400.0 161.1,400.1 159.3,400.4 157.5,400.8 155.7,401.4 154.0,402.2 152.4,403.2 150.9,404.3 149.6,405.6 148.3,406.9 147.2,408.4 146.2,410.0 145.4,411.7 144.9,413.3 143.8,413.1 142.0,413.0 140.2,413.1 138.5,413.3 136.8,413.8 135.1,414.4 133.5,415.1 132.0,416.0 130.6,417.1 129.3,418.3 128.1,419.6 127.0,421.0 126.1,422.5 125.4,424.1 124.8,425.8 124.3,427.5 124.1,429.2 124.0,431.0 124.1,432.8 124.3,434.5 124.8,436.2 125.4,437.9 126.1,439.5 127.0,441.0 128.1,442.4 128.4,442.7 128.3,443.0 128.0,443.8 127.8,444.6 127.6,445.4 127.5,446.2 127.5,447.0 127.5,447.8 127.6,448.6 127.8,449.4 128.0,450.2 128.3,451.0 128.6,451.8 129.0,452.5 129.4,453.2 129.9,453.9 130.5,454.6 131.1,455.2 131.7,455.8 132.4,456.4 133.2,456.9 133.9,457.4 134.8,457.8 135.6,458.2 136.5,458.5 137.3,458.8 138.2,459.1 139.2,459.3 140.1,459.4 141.1,459.5 142.0,459.5 142.9,459.5 143.9,459.4 144.8,459.3 145.8,459.1 146.7,458.8 147.5,458.5 148.4,458.2 149.2,457.8 150.1,457.4 150.8,456.9 151.0,456.8 151.0,457.0 151.0,457.9 151.2,458.9 151.4,459.8 151.7,460.8 152.1,461.7 152.6,462.5 153.2,463.4 153.8,464.2 154.5,465.1 155.3,465.8 156.2,466.6 157.2,467.3 158.2,467.9 159.2,468.5 160.3,469.1 161.5,469.6 162.7,470.0 164.0,470.4 165.2,470.7 166.6,471.0 167.9,471.2 169.3,471.4 170.6,471.5 172.0,471.5 173.4,471.5 174.7,471.4 176.1,471.2 177.4,471.0 178.8,470.7 180.0,470.4 181.3,470.0 182.5,469.6 183.7,469.1 184.8,468.5 185.8,467.9 186.8,467.3 187.8,466.6 188.7,465.8 189.5,465.1 190.2,464.2 190.5,463.8 190.9,464.6 191.4,465.5 192.0,466.4 192.7,467.2 193.5,468.0 194.4,468.8 195.4,469.5 196.5,470.2 197.6,470.9 198.9,471.5 200.2,472.1 201.6,472.6 203.0,473.1 204.5,473.6 206.1,473.9 207.6,474.3 209.3,474.5 210.9,474.7 212.6,474.9 214.3,475.0 216.0,475.0 217.7,475.0 219.4,474.9 221.1,474.7 222.7,474.5 224.4,474.3 225.9,473.9 227.5,473.6 229.0,473.1 230.4,472.6 231.8,472.1 233.1,471.5 234.4,470.9 235.5,470.2 236.6,469.5 237.6,468.8 238.5,468.0 239.3,467.2 240.0,466.4 240.6,465.5 241.1,464.6 241.5,463.7 241.8,462.8 241.9,461.9 242.0,461.0 241.9,460.1 241.8,459.2 241.5,458.3 241.2,457.6 242.6,457.1 242.6,457.2 243.0,458.0 243.4,458.8 244.0,459.5 244.5,460.2 245.2,460.9 245.9,461.6 246.7,462.2 247.6,462.8 248.5,463.4 249.4,463.9 250.4,464.4 251.5,464.8 252.6,465.2 253.7,465.5 254.9,465.8 256.1,466.1 257.3,466.3 258.5,466.4 259.8,466.5 261.0,466.5 262.2,466.5 263.5,466.4 264.7,466.3 265.9,466.1 267.1,465.8 268.3,465.5 269.4,465.2 270.5,464.8 271.6,464.4 272.6,463.9 273.5,463.4 274.4,462.8 275.3,462.2 276.1,461.6 276.8,460.9 277.5,460.2 278.0,459.5 278.6,458.8 279.0,458.0 279.4,457.2 279.6,456.4 279.8,455.6 280.0,454.8 280.0,454.0 280.0,453.2 279.8,452.4 279.6,451.6 279.4,450.8 279.0,450.0 278.6,449.2 278.5,449.1 279.9,449.8 281.4,450.3 282.9,450.7 284.4,450.9 286.0,451.0 287.6,450.9 289.1,450.7 290.6,450.3 292.1,449.8 293.5,449.1 294.9,448.3 296.2,447.4 297.3,446.3 298.4,445.2 299.3,443.9 300.1,442.5 300.8,441.1 301.3,439.6 301.7,438.1 301.9,436.6 302.0,435.0 301.9,433.4 301.7,431.9 301.3,430.4 300.8,428.9 300.1,427.5 299.3,426.1 298.4,424.8 297.3,423.7 296.3,422.7 296.3,422.6 296.7,421.1 296.9,419.6 297.0,418.0 296.9,416.4 296.7,414.9 296.3,413.4 295.8,411.9 295.1,410.5 294.3,409.1 293.4,407.8 292.3,406.7 291.2,405.6 289.9,404.7 288.5,403.9 287.1,403.2 285.6,402.7 284.1,402.3 282.6,402.1 281.0,402.0 279.4,402.1 279.3,402.1 278.2,400.7 276.8,399.2 275.3,397.8 273.7,396.5 271.9,395.5 270.0,394.6 268.1,393.9 266.1,393.4 264.1,393.1 262.0,393.0 259.9,393.1 257.9,393.4 255.9,393.9 254.0,394.6 252.1,395.5 250.3,396.5 248.7,397.8 247.2,399.2 245.8,400.7 244.5,402.3 243.5,404.1 242.9,405.3 242.2,403.8 241.2,402.2 240.1,400.6 238.8,399.2 237.4,397.9 235.8,396.8 234.2,395.8 232.5,395.0 230.7,394.3 228.8,393.9 226.9,393.6 225.0,393.5 223.1,393.6 221.2,393.9 219.3,394.3 217.5,395.0 215.8,395.8 214.2,396.8 212.6,397.9 211.2,399.2 211.0,399.5Z" fill="#C8DEF2"/>
<g clip-path="url(#cloudClip)" stroke="#B45AD6" stroke-width="1.6" fill="none"><path d="M129.7,448.1H276.3"/><path d="M158.1,448.1V480M177.5,448.1V480M217.9,448.1V480M253.6,448.1V480"/></g>
<g stroke="#555" stroke-width="1.3" fill="none"><path d="M128.5,443 Q136,441.5 143,444.5"/><path d="M183,402.5 Q187,404 188.5,407.5"/><path d="M263.5,437.5 Q272,438.5 276.5,445"/><path d="M189,467.5 Q187,464.5 188,461"/><path d="M242,461.5 Q242,458 240.5,456"/></g>
<path d="M210.6,399.2 209.0,398.2 207.3,397.4 205.5,396.8 203.7,396.4 201.9,396.1 200.0,396.0 198.1,396.1 196.3,396.4 194.5,396.8 192.7,397.4 191.0,398.2 189.4,399.2 187.9,400.3 186.6,401.6 185.3,402.9 184.2,404.4 183.2,406.0 182.4,407.7 181.8,409.5 181.4,411.3 181.3,412.0 180.7,412.1 180.6,411.7 179.8,410.0 178.8,408.4 177.7,406.9 176.4,405.6 175.1,404.3 173.6,403.2 172.0,402.2 170.3,401.4 168.5,400.8 166.7,400.4 164.9,400.1 163.0,400.0 161.1,400.1 159.3,400.4 157.5,400.8 155.7,401.4 154.0,402.2 152.4,403.2 150.9,404.3 149.6,405.6 148.3,406.9 147.2,408.4 146.2,410.0 145.4,411.7 144.9,413.3 143.8,413.1 142.0,413.0 140.2,413.1 138.5,413.3 136.8,413.8 135.1,414.4 133.5,415.1 132.0,416.0 130.6,417.1 129.3,418.3 128.1,419.6 127.0,421.0 126.1,422.5 125.4,424.1 124.8,425.8 124.3,427.5 124.1,429.2 124.0,431.0 124.1,432.8 124.3,434.5 124.8,436.2 125.4,437.9 126.1,439.5 127.0,441.0 128.1,442.4 128.4,442.7 128.3,443.0 128.0,443.8 127.8,444.6 127.6,445.4 127.5,446.2 127.5,447.0 127.5,447.8 127.6,448.6 127.8,449.4 128.0,450.2 128.3,451.0 128.6,451.8 129.0,452.5 129.4,453.2 129.9,453.9 130.5,454.6 131.1,455.2 131.7,455.8 132.4,456.4 133.2,456.9 133.9,457.4 134.8,457.8 135.6,458.2 136.5,458.5 137.3,458.8 138.2,459.1 139.2,459.3 140.1,459.4 141.1,459.5 142.0,459.5 142.9,459.5 143.9,459.4 144.8,459.3 145.8,459.1 146.7,458.8 147.5,458.5 148.4,458.2 149.2,457.8 150.1,457.4 150.8,456.9 151.0,456.8 151.0,457.0 151.0,457.9 151.2,458.9 151.4,459.8 151.7,460.8 152.1,461.7 152.6,462.5 153.2,463.4 153.8,464.2 154.5,465.1 155.3,465.8 156.2,466.6 157.2,467.3 158.2,467.9 159.2,468.5 160.3,469.1 161.5,469.6 162.7,470.0 164.0,470.4 165.2,470.7 166.6,471.0 167.9,471.2 169.3,471.4 170.6,471.5 172.0,471.5 173.4,471.5 174.7,471.4 176.1,471.2 177.4,471.0 178.8,470.7 180.0,470.4 181.3,470.0 182.5,469.6 183.7,469.1 184.8,468.5 185.8,467.9 186.8,467.3 187.8,466.6 188.7,465.8 189.5,465.1 190.2,464.2 190.5,463.8 190.9,464.6 191.4,465.5 192.0,466.4 192.7,467.2 193.5,468.0 194.4,468.8 195.4,469.5 196.5,470.2 197.6,470.9 198.9,471.5 200.2,472.1 201.6,472.6 203.0,473.1 204.5,473.6 206.1,473.9 207.6,474.3 209.3,474.5 210.9,474.7 212.6,474.9 214.3,475.0 216.0,475.0 217.7,475.0 219.4,474.9 221.1,474.7 222.7,474.5 224.4,474.3 225.9,473.9 227.5,473.6 229.0,473.1 230.4,472.6 231.8,472.1 233.1,471.5 234.4,470.9 235.5,470.2 236.6,469.5 237.6,468.8 238.5,468.0 239.3,467.2 240.0,466.4 240.6,465.5 241.1,464.6 241.5,463.7 241.8,462.8 241.9,461.9 242.0,461.0 241.9,460.1 241.8,459.2 241.5,458.3 241.2,457.6 242.6,457.1 242.6,457.2 243.0,458.0 243.4,458.8 244.0,459.5 244.5,460.2 245.2,460.9 245.9,461.6 246.7,462.2 247.6,462.8 248.5,463.4 249.4,463.9 250.4,464.4 251.5,464.8 252.6,465.2 253.7,465.5 254.9,465.8 256.1,466.1 257.3,466.3 258.5,466.4 259.8,466.5 261.0,466.5 262.2,466.5 263.5,466.4 264.7,466.3 265.9,466.1 267.1,465.8 268.3,465.5 269.4,465.2 270.5,464.8 271.6,464.4 272.6,463.9 273.5,463.4 274.4,462.8 275.3,462.2 276.1,461.6 276.8,460.9 277.5,460.2 278.0,459.5 278.6,458.8 279.0,458.0 279.4,457.2 279.6,456.4 279.8,455.6 280.0,454.8 280.0,454.0 280.0,453.2 279.8,452.4 279.6,451.6 279.4,450.8 279.0,450.0 278.6,449.2 278.5,449.1 279.9,449.8 281.4,450.3 282.9,450.7 284.4,450.9 286.0,451.0 287.6,450.9 289.1,450.7 290.6,450.3 292.1,449.8 293.5,449.1 294.9,448.3 296.2,447.4 297.3,446.3 298.4,445.2 299.3,443.9 300.1,442.5 300.8,441.1 301.3,439.6 301.7,438.1 301.9,436.6 302.0,435.0 301.9,433.4 301.7,431.9 301.3,430.4 300.8,428.9 300.1,427.5 299.3,426.1 298.4,424.8 297.3,423.7 296.3,422.7 296.3,422.6 296.7,421.1 296.9,419.6 297.0,418.0 296.9,416.4 296.7,414.9 296.3,413.4 295.8,411.9 295.1,410.5 294.3,409.1 293.4,407.8 292.3,406.7 291.2,405.6 289.9,404.7 288.5,403.9 287.1,403.2 285.6,402.7 284.1,402.3 282.6,402.1 281.0,402.0 279.4,402.1 279.3,402.1 278.2,400.7 276.8,399.2 275.3,397.8 273.7,396.5 271.9,395.5 270.0,394.6 268.1,393.9 266.1,393.4 264.1,393.1 262.0,393.0 259.9,393.1 257.9,393.4 255.9,393.9 254.0,394.6 252.1,395.5 250.3,396.5 248.7,397.8 247.2,399.2 245.8,400.7 244.5,402.3 243.5,404.1 242.9,405.3 242.2,403.8 241.2,402.2 240.1,400.6 238.8,399.2 237.4,397.9 235.8,396.8 234.2,395.8 232.5,395.0 230.7,394.3 228.8,393.9 226.9,393.6 225.0,393.5 223.1,393.6 221.2,393.9 219.3,394.3 217.5,395.0 215.8,395.8 214.2,396.8 212.6,397.9 211.2,399.2 211.0,399.5Z" fill="none" stroke="#4f4f4f" stroke-width="1.5"/>
<text x="193.0" y="418.1" font-size="9.4" font-weight="bold" fill="#111" textLength="27.4" lengthAdjust="spacingAndGlyphs">Cloud</text>
<text x="155.2" y="434.9" font-size="9.5" fill="#111" stroke="#111" stroke-width="0.15" textLength="105.4" lengthAdjust="spacingAndGlyphs">Eahouker social network</text>
<g font-size="8" fill="#E8514B"><text x="140.5" y="458.2" textLength="9" lengthAdjust="spacingAndGlyphs">DI</text><text x="181.8" y="455.9" textLength="34" lengthAdjust="spacingAndGlyphs">Domestic</text><text x="182.2" y="466.4" textLength="33.6" lengthAdjust="spacingAndGlyphs">Infrastruc</text><text x="255.6" y="458.1" textLength="7.8" lengthAdjust="spacingAndGlyphs">DI</text></g>
</g>
</g>
</svg>
<svg id="wm" width="915" height="693" viewBox="0 0 915 693">
<path d="M98.9,431.1 99.5,431.2 100.0,431.3 100.4,431.6 100.7,432.0 100.8,432.5 100.9,433.1 100.9,436.2 100.8,436.8 100.7,437.3 100.4,437.7 100.0,438.0 99.5,438.1 98.9,438.2 31.8,438.2 31.8,453.0 103.4,453.0 107.4,452.6 110.6,451.6 113.2,449.8 115.0,447.2 116.0,444.0 116.4,440.0 116.4,429.3 116.0,425.3 115.0,422.1 113.2,419.6 110.6,417.7 107.4,416.7 103.4,416.3 45.6,416.3 45.0,416.2 44.5,416.1 44.1,415.8 43.8,415.4 43.7,414.9 43.6,414.3 43.6,411.3 43.7,410.7 43.8,410.2 44.1,409.8 44.5,409.5 45.0,409.4 45.6,409.3 113.1,409.3 113.1,394.3 41.1,394.3 37.1,394.7 33.9,395.7 31.4,397.6 29.5,400.1 28.5,403.3 28.1,407.3 28.1,418.1 28.5,422.1 29.5,425.3 31.4,427.9 33.9,429.7 37.1,430.7 41.1,431.1ZM212.0,438.2 145.2,438.2 144.6,438.1 144.1,438.0 143.7,437.7 143.4,437.3 143.3,436.8 143.2,436.2 143.2,411.3 143.3,410.7 143.4,410.2 143.7,409.8 144.1,409.5 144.6,409.4 145.2,409.3 212.0,409.3 212.0,394.3 140.7,394.3 136.7,394.7 133.5,395.7 130.9,397.6 129.1,400.1 128.1,403.3 127.7,407.3 127.7,440.0 128.1,444.0 129.1,447.2 131.0,449.8 133.5,451.6 136.7,452.6 140.7,453.0 212.0,453.0ZM219.5,453.0 236.0,453.0 236.0,394.3 219.5,394.3ZM246.6,409.3 280.5,409.3 280.5,453.0 295.0,453.0 295.0,409.3 329.5,409.3 329.5,394.3 246.6,394.3ZM256.7,440.1 254.3,442.8 251.8,445.5 249.2,448.3 246.6,451.3 243.9,454.2 243.0,455.1 243.0,460.0 238.6,460.0 236.5,462.4 234.5,464.6 233.0,466.5 231.9,468.0 231.2,469.0 230.7,469.8 230.5,470.4 230.5,470.8 230.6,471.3 230.8,471.8 231.0,472.5 231.2,473.3 231.6,474.2 232.0,475.2 232.5,476.1 233.2,477.0 234.0,477.9 234.9,478.8 236.0,479.5 237.3,480.2 238.8,480.8 240.5,481.3 242.3,481.9 244.1,482.4 246.0,482.8 247.8,483.2 249.5,483.6 250.5,483.8 273.3,483.8 272.2,483.3 270.0,482.4 268.0,481.5 266.1,480.7 264.5,480.1 263.2,479.7 261.9,479.3 260.9,479.0 259.9,478.7 258.9,478.4 258.0,478.0 257.1,477.5 256.4,477.1 255.7,476.6 255.1,476.1 254.5,475.6 254.0,475.1 253.5,474.6 253.0,474.0 252.5,473.4 251.9,472.8 251.3,472.2 250.8,471.5 250.4,470.8 250.1,470.2 249.9,469.4 250.0,468.7 250.2,468.0 250.6,467.4 251.1,466.7 251.8,466.0 252.6,465.3 253.5,464.4 254.7,463.3 256.0,462.0 257.6,460.5 259.4,458.8 261.4,457.1 263.6,455.1 265.8,453.0 268.2,450.7 270.5,448.2 272.8,445.5 273.5,444.6 273.5,421.4 272.8,422.2 269.7,425.7 266.8,428.9 264.1,431.9 261.6,434.7 259.1,437.5ZM49.2,504.6 27.7,504.6 27.7,509.3 51.5,509.3 52.4,509.1 53.2,508.6 53.7,507.8 53.9,506.9 53.9,500.1 53.7,499.3 53.2,498.5 52.4,498.0 51.5,497.8 32.4,497.8 32.4,495.7 53.9,495.7 53.9,491.0 30.1,491.0 29.2,491.2 28.4,491.7 27.9,492.5 27.7,493.4 27.7,500.1 27.9,501.0 28.4,501.8 29.2,502.3 30.1,502.5 49.2,502.5ZM84.5,509.3 84.5,504.6 61.9,504.6 61.9,495.7 84.5,495.7 84.5,491.0 59.6,491.0 58.7,491.2 57.9,491.7 57.4,492.5 57.2,493.4 57.2,506.9 57.4,507.8 57.9,508.6 58.7,509.1 59.6,509.3ZM88.9,491.0 88.9,509.3 94.0,509.3 94.0,491.0ZM102.2,504.6 102.2,502.5 120.0,502.5 120.0,497.8 102.2,497.8 102.2,495.7 120.5,495.7 120.5,491.0 99.8,491.0 99.0,491.2 98.2,491.7 97.7,492.5 97.5,493.4 97.5,506.9 97.7,507.8 98.2,508.6 99.0,509.1 99.8,509.3 120.5,509.3 120.5,504.6ZM142.1,502.5 125.9,491.4 125.1,491.1 124.3,491.0 123.5,491.3 122.8,491.8 122.4,492.5 122.2,493.4 122.2,509.3 126.9,509.3 126.9,497.8 143.1,508.9 143.9,509.2 144.7,509.3 145.5,509.0 146.2,508.5 146.6,507.8 146.8,506.9 146.8,491.0 142.1,491.0ZM175.7,504.6 155.3,504.6 155.3,495.7 175.7,495.7 175.7,491.0 152.9,491.0 152.1,491.2 151.3,491.7 150.8,492.5 150.6,493.4 150.6,506.9 150.8,507.8 151.3,508.6 152.1,509.1 152.9,509.3 175.7,509.3ZM184.3,504.6 184.3,502.5 204.2,502.5 204.2,497.8 184.3,497.8 184.3,495.7 204.7,495.7 204.7,491.0 181.9,491.0 181.1,491.2 180.3,491.7 179.8,492.5 179.6,493.4 179.6,506.9 179.8,507.8 180.3,508.6 181.1,509.1 181.9,509.3 204.7,509.3 204.7,504.6ZM267.4,502.5 251.2,491.4 250.4,491.1 249.6,491.0 248.8,491.3 248.1,491.8 247.7,492.5 247.5,493.4 247.5,509.3 252.2,509.3 252.2,497.8 268.4,508.9 269.2,509.2 270.0,509.3 270.8,509.0 271.5,508.5 271.9,507.8 272.1,506.9 272.1,491.0 267.4,491.0ZM297.5,509.1 298.3,508.6 298.8,507.8 299.0,506.9 299.0,493.4 298.8,492.5 298.3,491.7 297.5,491.2 296.6,491.0 277.0,491.0 276.1,491.2 275.3,491.7 274.8,492.5 274.6,493.4 274.6,506.9 274.8,507.8 275.3,508.6 276.1,509.1 277.0,509.3 296.6,509.3ZM279.3,495.7 294.3,495.7 294.3,504.6 279.3,504.6ZM325.9,495.7 325.9,509.3 330.6,509.3 330.6,495.7 340.8,495.7 340.8,491.0 315.7,491.0 315.7,495.7ZM222.6,511.2 230.5,505.3 240.3,505.3 240.3,509.3 245.0,509.3 245.0,493.4 244.8,492.5 244.4,491.8 243.7,491.3 242.9,491.0 242.0,491.1 241.2,491.5 219.8,507.4ZM235.6,501.5 240.3,498.0 240.3,501.5ZM694.0,362.6 693.8,362.4 693.6,362.3 693.3,362.1 693.1,362.0 692.8,361.9 692.6,361.9 691.3,361.6 691.3,361.6 689.6,361.3 687.7,360.9 685.5,360.4 683.1,360.0 680.6,359.4 678.1,358.9 675.7,358.3 673.1,357.6 670.4,356.9 667.6,356.2 664.6,355.4 661.7,354.6 658.8,353.8 656.0,352.9 653.4,352.0 650.9,351.2 648.4,350.3 646.0,349.3 643.6,348.3 641.3,347.3 638.9,346.4 638.9,346.4 636.5,345.4 636.5,345.4 634.0,344.4 634.0,344.4 631.5,343.4 631.5,343.4 628.9,342.4 628.9,342.4 626.3,341.4 623.6,340.4 621.1,339.4 618.7,338.5 616.5,337.7 614.5,336.9 612.8,336.2 611.4,335.7 610.2,335.2 609.0,334.7 608.0,334.3 607.0,333.9 605.9,333.5 605.9,333.5 604.7,333.0 603.5,332.5 602.3,332.0 601.1,331.5 599.8,331.0 599.8,331.0 598.6,330.5 598.6,330.5 597.3,330.0 597.3,330.0 596.1,329.5 596.0,329.5 594.8,329.0 594.8,329.0 593.5,328.5 593.5,328.5 592.3,328.1 592.3,328.1 591.0,327.6 591.0,327.6 589.8,327.2 589.8,327.2 588.6,326.8 587.3,326.4 586.1,326.0 584.9,325.6 583.7,325.1 582.5,324.7 581.3,324.2 580.1,323.8 580.1,323.8 578.9,323.3 578.8,323.3 577.6,322.9 577.6,322.8 576.3,322.4 576.3,322.4 575.0,322.0 575.0,322.0 573.8,321.7 573.7,321.6 572.5,321.3 572.5,321.3 571.2,321.0 571.2,320.9 569.9,320.6 569.9,320.6 568.7,320.3 568.6,320.3 567.4,320.0 567.3,320.0 566.1,319.8 566.0,319.8 564.8,319.5 564.8,319.5 563.5,319.3 563.5,319.3 562.2,319.2 562.2,319.1 561.0,319.0 560.9,319.0 559.7,318.8 559.7,318.8 558.4,318.7 558.4,318.7 557.2,318.6 557.1,318.6 555.9,318.6 555.8,318.6 554.6,318.5 554.6,318.5 553.4,318.5 553.3,318.5 552.2,318.5 552.2,318.5 551.0,318.5 551.0,318.5 549.8,318.5 549.8,318.5 548.6,318.5 548.6,318.5 547.3,318.6 547.3,318.6 546.0,318.7 545.9,318.7 544.5,318.8 544.4,318.8 542.7,319.0 542.7,319.0 540.7,319.2 540.7,319.2 538.6,319.4 538.6,319.4 536.4,319.7 536.4,319.7 534.3,319.9 534.3,319.9 532.4,320.2 530.8,320.4 530.4,319.5 530.4,319.5 529.8,318.5 529.8,318.5 529.2,317.6 529.2,317.5 528.6,316.6 528.6,316.5 528.0,315.6 527.9,315.6 527.3,314.8 527.3,314.7 526.7,314.0 526.7,314.0 526.1,313.3 526.0,313.2 525.4,312.5 525.4,312.5 524.7,311.7 524.7,311.7 523.9,310.9 523.9,310.8 523.0,309.9 523.0,309.9 521.9,308.8 520.7,307.6 519.3,306.1 519.3,306.1 517.8,304.6 517.8,304.6 516.3,303.0 516.2,302.9 514.6,301.3 514.6,301.3 512.9,299.7 512.9,299.6 511.3,298.1 511.2,298.1 509.7,296.7 509.6,296.7 508.2,295.4 508.2,295.4 506.8,294.3 506.7,294.2 505.3,293.1 505.3,293.1 503.9,292.1 503.8,292.0 502.4,291.0 502.3,291.0 500.8,290.0 500.8,289.9 499.1,289.0 499.1,288.9 497.3,287.9 497.2,287.9 495.3,286.9 495.2,286.8 493.2,285.9 493.2,285.8 491.1,284.9 491.0,284.8 488.8,283.9 488.8,283.9 486.5,282.9 486.5,282.9 484.1,281.9 484.0,281.9 481.6,281.0 481.5,281.0 479.0,280.0 478.9,280.0 476.2,278.9 476.2,278.9 473.3,277.9 473.3,277.9 470.3,276.8 470.3,276.8 467.2,275.7 467.2,275.7 464.1,274.7 464.1,274.7 460.9,273.6 460.9,273.6 457.8,272.6 454.8,271.5 454.8,271.5 451.7,270.5 451.7,270.5 448.5,269.5 448.5,269.5 445.3,268.5 445.3,268.5 442.2,267.5 439.1,266.5 436.1,265.5 433.3,264.6 430.8,263.7 428.4,262.9 426.1,262.0 423.9,261.2 421.9,260.4 420.0,259.6 418.4,259.0 417.0,258.4 417.0,258.4 415.9,258.0 415.7,257.9 415.4,257.8 415.2,257.8 415.0,257.8 414.8,257.8 414.6,255.8 412.2,258.6 409.4,261.9 406.0,265.7 402.1,270.3 397.6,275.5 392.4,281.5 386.6,288.4 380.0,296.1 372.1,305.4 362.8,316.6 352.4,328.9 341.6,341.9 330.7,354.8 320.5,367.0 311.3,378.0 303.6,387.0 303.3,387.3 316.0,387.3 316.2,387.0 323.0,378.5 331.3,368.1 340.7,356.3 350.6,343.9 360.6,331.4 370.1,319.5 378.7,308.8 385.8,300.0 391.6,292.8 396.7,286.7 401.2,281.3 405.1,276.8 408.4,272.9 411.2,269.6 413.6,266.8 415.6,264.4 415.4,263.0 416.6,263.4 418.2,264.1 418.2,264.1 420.1,264.8 420.1,264.8 422.2,265.7 422.2,265.7 424.4,266.5 424.4,266.5 426.8,267.4 426.8,267.4 429.2,268.3 429.2,268.3 431.8,269.1 431.8,269.2 434.6,270.1 434.6,270.1 437.6,271.0 437.6,271.0 440.7,272.0 443.9,273.0 447.0,274.0 450.2,275.1 453.2,276.1 456.3,277.1 459.4,278.1 462.5,279.2 465.6,280.3 468.7,281.3 471.7,282.4 474.5,283.4 477.2,284.4 479.8,285.4 482.3,286.4 484.7,287.4 486.9,288.3 489.1,289.2 491.1,290.2 493.1,291.1 495.0,292.1 496.7,293.1 498.2,294.0 499.7,295.0 501.1,295.9 502.4,296.9 503.7,298.0 505.1,299.1 506.5,300.3 508.0,301.6 509.6,303.1 511.2,304.7 512.8,306.3 514.4,307.9 515.9,309.5 517.3,310.9 517.3,310.9 518.5,312.2 518.5,312.2 519.5,313.2 520.4,314.2 521.2,315.0 521.8,315.7 522.4,316.4 523.0,317.0 523.5,317.7 524.1,318.4 524.6,319.2 525.1,320.0 525.7,320.9 526.2,321.8 526.6,322.7 527.0,323.5 527.0,323.5 527.3,323.9 527.3,323.9 527.3,324.2 527.4,324.4 527.6,324.7 527.6,324.8 525.0,328.8 520.7,335.1 515.6,342.5 510.0,350.9 504.0,359.8 497.8,369.0 491.7,378.1 486.0,386.9 485.7,387.3 491.3,387.3 491.6,386.9 497.1,378.2 502.9,369.2 508.7,360.1 514.4,351.4 519.8,343.2 524.5,335.9 528.6,329.7 530.9,326.0 531.5,325.9 531.5,325.9 533.1,325.7 535.0,325.5 537.1,325.2 539.2,325.0 541.3,324.7 543.3,324.5 544.9,324.4 546.4,324.3 547.7,324.2 548.9,324.1 550.0,324.1 551.1,324.1 552.2,324.1 553.2,324.1 554.4,324.1 555.6,324.1 556.8,324.2 557.9,324.3 559.1,324.4 560.3,324.5 561.5,324.7 562.6,324.9 563.8,325.1 565.0,325.3 566.2,325.5 567.4,325.8 568.6,326.1 569.8,326.4 571.0,326.7 572.2,327.0 573.4,327.4 574.6,327.7 575.7,328.1 576.9,328.6 578.1,329.0 579.3,329.5 580.6,329.9 580.6,329.9 581.8,330.4 581.8,330.4 583.1,330.8 583.1,330.8 584.3,331.3 584.3,331.3 585.5,331.7 585.6,331.7 586.8,332.1 588.0,332.5 589.2,332.9 590.4,333.4 591.6,333.8 592.8,334.2 594.0,334.7 595.2,335.2 596.5,335.7 597.7,336.2 598.9,336.7 600.2,337.2 600.2,337.2 601.4,337.7 601.4,337.7 602.6,338.2 602.7,338.2 603.8,338.7 604.9,339.1 605.9,339.5 605.9,339.5 607.0,339.9 607.0,339.9 608.1,340.4 608.1,340.4 609.3,340.9 609.3,340.9 610.8,341.4 610.8,341.4 612.5,342.1 612.5,342.1 614.5,342.9 614.5,342.9 616.7,343.7 616.7,343.7 619.1,344.7 621.6,345.6 624.3,346.6 626.9,347.6 629.5,348.6 632.0,349.6 634.4,350.6 636.7,351.5 639.1,352.5 641.5,353.5 641.5,353.5 643.9,354.5 643.9,354.5 646.4,355.5 646.4,355.5 648.9,356.4 649.0,356.4 651.6,357.3 651.6,357.4 654.3,358.2 654.4,358.3 657.2,359.1 657.3,359.1 660.2,360.0 660.2,360.0 663.2,360.8 663.2,360.8 666.1,361.6 666.1,361.6 669.0,362.4 669.0,362.4 671.7,363.1 671.7,363.1 674.3,363.7 674.3,363.7 676.8,364.3 676.9,364.3 679.4,364.9 679.5,364.9 681.9,365.4 682.0,365.4 684.3,365.9 684.4,365.9 686.6,366.4 686.6,366.4 688.4,366.7 678.7,387.0 678.6,387.3 687.1,387.3 687.2,387.0 697.5,363.8 694.8,364.6 694.8,364.3 694.7,364.1 694.7,363.8 694.6,363.5 694.5,363.3 694.3,363.1 694.2,362.8ZM356.7,438.2 356.1,438.1 355.6,438.0 355.2,437.7 354.9,437.3 354.8,436.8 354.7,436.2 354.7,433.1 354.8,432.5 354.9,432.0 355.2,431.6 355.6,431.3 356.1,431.2 356.7,431.1 421.0,431.1 421.0,416.3 356.7,416.3 356.1,416.2 355.6,416.1 355.2,415.8 354.9,415.4 354.8,414.9 354.7,414.3 354.7,411.3 354.8,410.7 354.9,410.2 355.2,409.8 355.6,409.5 356.1,409.4 356.7,409.3 421.0,409.3 421.0,394.3 352.2,394.3 348.2,394.7 345.0,395.7 342.4,397.6 340.6,400.1 339.6,403.3 339.2,407.3 339.2,440.0 339.6,444.0 340.6,447.2 342.4,449.8 345.0,451.6 348.2,452.6 352.2,453.0 421.0,453.0 421.0,438.2ZM515.2,422.1 515.6,418.1 515.6,407.3 515.2,403.3 514.2,400.1 512.4,397.6 509.8,395.7 506.6,394.7 502.6,394.3 430.6,394.3 430.6,453.0 446.1,453.0 446.1,431.1 502.6,431.1 506.6,430.7 509.8,429.7 512.4,427.9 514.2,425.3ZM498.9,414.9 498.8,415.4 498.5,415.8 498.1,416.1 497.6,416.2 497.0,416.3 446.1,416.3 446.1,409.3 497.0,409.3 497.6,409.4 498.1,409.5 498.5,409.8 498.8,410.2 498.9,410.7 499.0,411.3 499.0,414.3ZM605.6,400.1 603.8,397.6 601.2,395.7 598.0,394.7 594.0,394.3 525.2,394.3 525.2,453.0 540.7,453.0 540.7,431.1 591.2,431.1 592.6,453.0 609.4,453.0 607.0,429.1 607.0,407.3 606.6,403.3ZM590.8,415.4 590.5,415.8 590.1,416.1 589.6,416.2 589.0,416.3 540.7,416.3 540.7,409.3 589.0,409.3 589.6,409.4 590.1,409.5 590.5,409.8 590.8,410.2 590.9,410.7 591.0,411.3 591.0,414.3 590.9,414.9ZM453.1,449.3 455.6,445.2 460.0,438.1 453.9,438.1 453.1,439.4ZM429.1,476.3 427.7,478.1 426.1,480.4 424.0,483.4 423.7,483.8 430.9,483.8 431.2,483.4 433.1,480.4 434.6,478.1 435.9,476.3 437.2,474.4 438.6,472.2 440.5,469.4 443.0,465.5 446.3,460.3 446.5,460.0 440.2,460.0 440.0,460.3 436.6,465.5 434.0,469.4 432.1,472.2 430.5,474.4ZM348.3,504.6 348.3,502.5 369.0,502.5 369.0,497.8 348.3,497.8 348.3,495.7 369.5,495.7 369.5,491.0 346.0,491.0 345.1,491.2 344.3,491.7 343.8,492.5 343.6,493.4 343.6,506.9 343.8,507.8 344.3,508.6 345.1,509.1 346.0,509.3 369.5,509.3 369.5,504.6ZM396.8,504.6 376.3,504.6 376.3,495.7 396.8,495.7 396.8,491.0 374.0,491.0 373.1,491.2 372.3,491.7 371.8,492.5 371.6,493.4 371.6,506.9 371.8,507.8 372.3,508.6 373.1,509.1 374.0,509.3 396.8,509.3ZM400.0,491.0 400.0,509.3 404.7,509.3 404.7,502.5 422.1,502.5 422.1,509.3 426.8,509.3 426.8,491.0 422.1,491.0 422.1,497.8 404.7,497.8 404.7,491.0ZM433.4,491.0 432.4,491.1 431.5,491.6 430.9,492.4 430.7,493.4 430.7,509.3 435.4,509.3 435.4,497.7 452.4,508.9 453.3,509.3 454.3,509.2 455.2,508.7 455.8,507.9 456.0,506.9 456.0,491.0 451.3,491.0 451.3,502.6 434.3,491.4ZM480.5,509.1 481.3,508.6 481.8,507.8 482.0,506.9 482.0,493.4 481.8,492.5 481.3,491.7 480.5,491.2 479.6,491.0 460.9,491.0 460.0,491.2 459.2,491.7 458.7,492.5 458.5,493.4 458.5,506.9 458.7,507.8 459.2,508.6 460.0,509.1 460.9,509.3 479.6,509.3ZM463.2,495.7 477.3,495.7 477.3,504.6 463.2,504.6ZM486.1,506.9 486.3,507.8 486.8,508.6 487.6,509.1 488.5,509.3 504.7,509.3 504.7,504.6 490.8,504.6 490.8,491.0 486.1,491.0ZM531.6,509.1 532.4,508.6 532.9,507.8 533.1,506.9 533.1,493.4 532.9,492.5 532.4,491.7 531.6,491.2 530.8,491.0 510.4,491.0 509.5,491.2 508.7,491.7 508.2,492.5 508.0,493.4 508.0,506.9 508.2,507.8 508.7,508.6 509.5,509.1 510.4,509.3 530.8,509.3ZM512.7,495.7 528.4,495.7 528.4,504.6 512.7,504.6ZM560.7,509.1 561.5,508.6 562.0,507.8 562.2,506.9 562.2,500.1 562.0,499.3 561.5,498.5 560.7,498.0 559.9,497.8 550.9,497.8 550.9,502.5 557.5,502.5 557.5,504.6 541.7,504.6 541.7,495.7 562.2,495.7 562.2,491.0 539.4,491.0 538.5,491.2 537.7,491.7 537.2,492.5 537.0,493.4 537.0,506.9 537.2,507.8 537.7,508.6 538.5,509.1 539.4,509.3 559.9,509.3ZM589.4,508.6 589.9,507.8 590.1,506.9 590.1,491.0 585.4,491.0 585.4,497.8 570.2,497.8 570.2,491.0 565.5,491.0 565.5,500.1 565.7,501.0 566.2,501.8 567.0,502.3 567.9,502.5 585.4,502.5 585.4,504.6 565.5,504.6 565.5,509.3 587.8,509.3 588.6,509.1ZM333.5,529.0 336.0,531.0 338.7,533.2 341.4,535.5 344.3,538.0 347.1,540.4 349.9,542.9 352.6,545.2 355.1,547.4 357.5,549.3 359.6,551.0 361.4,552.5 363.1,553.9 364.7,555.2 366.2,556.4 367.9,557.6 369.8,558.7 372.0,560.0 374.5,561.3 377.2,562.7 380.0,564.1 383.0,565.4 386.1,566.7 389.1,568.0 392.1,569.1 395.0,570.0 397.8,570.8 400.7,571.4 403.6,571.9 406.4,572.3 409.3,572.7 412.0,573.0 414.7,573.4 417.2,573.7 419.6,574.0 421.8,574.2 423.9,574.4 425.9,574.5 428.0,574.7 430.0,574.9 432.2,575.3 434.6,575.9 437.2,576.7 440.0,577.6 442.9,578.6 445.8,579.7 448.7,580.9 451.5,582.1 454.1,583.3 456.5,584.5 458.6,585.7 460.4,587.0 462.1,588.3 463.7,589.7 465.3,591.0 466.8,592.3 468.3,593.6 470.0,594.9 471.7,596.1 473.5,597.2 475.3,598.3 477.1,599.4 478.8,600.5 480.6,601.7 482.4,602.9 484.2,604.1 486.0,605.4 487.8,606.8 489.5,608.2 491.3,609.7 493.1,611.2 494.8,612.7 496.6,614.1 498.4,615.5 500.2,616.9 501.9,618.2 503.7,619.6 505.5,620.9 507.3,622.3 509.0,623.6 510.8,624.8 512.6,626.1 514.4,627.3 516.1,628.6 517.9,629.8 519.7,631.0 521.5,632.1 523.2,633.3 525.0,634.4 526.8,635.4 528.6,636.4 530.3,637.4 532.1,638.4 533.9,639.3 535.7,640.1 537.4,641.0 539.2,641.8 541.0,642.5 542.8,643.2 544.6,643.8 546.4,644.4 548.1,645.0 549.9,645.5 551.7,645.9 553.5,646.3 555.3,646.7 557.1,647.0 559.0,647.3 560.9,647.5 562.8,647.7 564.6,647.8 566.4,647.9 568.0,648.0 569.5,648.1 570.9,648.1 572.1,648.1 573.2,648.1 574.3,648.0 575.2,648.0 576.2,647.8 577.1,647.7 578.0,647.6 578.9,647.4 579.8,647.2 580.7,647.0 581.5,646.8 582.3,646.5 583.0,646.3 583.6,646.1 584.0,646.0 600.0,606.9 633.8,517.0 634.1,516.2 617.9,516.2 617.5,517.0 593.6,570.0 569.5,620.4 568.3,620.3 566.8,620.1 565.0,620.0 563.1,619.8 561.1,619.7 559.1,619.5 557.2,619.2 555.3,619.0 553.5,618.7 551.7,618.5 549.9,618.1 548.1,617.8 546.4,617.5 544.6,617.1 542.8,616.7 541.0,616.2 539.2,615.7 537.4,615.2 535.7,614.6 533.9,614.0 532.1,613.3 530.3,612.6 528.6,611.9 526.8,611.2 525.0,610.4 523.2,609.6 521.5,608.8 519.7,608.0 517.9,607.1 516.1,606.1 514.4,605.1 512.6,604.1 510.8,603.0 509.0,601.8 507.3,600.6 505.5,599.3 503.7,598.0 501.9,596.7 500.2,595.5 498.4,594.2 496.6,592.9 494.8,591.7 493.1,590.4 491.3,589.1 489.5,587.8 487.8,586.5 486.0,585.3 484.2,584.2 482.4,583.1 480.6,582.1 478.8,581.1 477.1,580.1 475.3,579.2 473.5,578.2 471.7,577.3 470.0,576.4 468.3,575.5 466.8,574.6 465.3,573.7 463.7,572.8 462.1,572.0 460.4,571.1 458.6,570.2 456.5,569.3 454.1,568.3 451.5,567.3 448.7,566.3 445.8,565.2 442.9,564.2 440.0,563.3 437.2,562.4 434.6,561.7 432.2,561.1 429.9,560.7 427.7,560.4 425.6,560.1 423.5,559.9 421.4,559.7 419.3,559.4 417.2,559.0 415.0,558.6 412.9,558.1 410.8,557.7 408.6,557.2 406.5,556.7 404.4,556.1 402.2,555.6 400.0,555.0 397.8,554.4 395.5,553.8 393.2,553.1 390.9,552.4 389.7,552.1 391.1,550.1 393.6,546.0 396.4,541.3 399.4,536.3 402.4,531.0 405.5,525.7 408.4,520.6 411.1,516.2 401.8,516.2 398.7,519.7 394.9,523.5 391.0,527.2 387.0,530.9 383.2,534.3 379.7,537.5 376.8,540.3 374.5,542.8 373.0,544.9 372.4,545.8 372.3,545.8 370.5,544.9 368.6,543.9 366.6,542.8 364.6,541.5 362.6,540.1 360.5,538.5 358.4,536.9 356.3,535.2 354.2,533.4 352.1,531.7 350.0,530.0 348.0,528.4 346.3,526.8 344.6,525.2 342.9,523.6 340.9,522.0 338.7,520.1 335.9,518.1 333.0,516.2 316.5,516.2 319.1,518.1 321.8,520.1 324.3,521.9 326.7,523.7 328.9,525.4 331.2,527.2ZM699.8,438.2 635.2,438.2 634.6,438.1 634.1,438.0 633.7,437.7 633.4,437.3 633.3,436.8 633.2,436.2 633.2,433.1 633.3,432.5 633.4,432.0 633.7,431.6 634.1,431.3 634.6,431.2 635.2,431.1 699.8,431.1 699.8,416.3 635.2,416.3 634.6,416.2 634.1,416.1 633.7,415.8 633.4,415.4 633.3,414.9 633.2,414.3 633.2,411.3 633.3,410.7 633.4,410.2 633.7,409.8 634.1,409.5 634.6,409.4 635.2,409.3 699.8,409.3 699.8,394.3 630.7,394.3 626.7,394.7 623.5,395.7 621.0,397.6 619.1,400.1 618.1,403.3 617.7,407.3 617.7,440.0 618.1,444.0 619.1,447.2 621.0,449.8 623.5,451.6 626.7,452.6 630.7,453.0 699.8,453.0ZM781.3,431.2 781.8,431.3 782.2,431.6 782.5,432.0 782.6,432.5 782.7,433.1 782.7,436.2 782.6,436.8 782.5,437.3 782.2,437.7 781.8,438.0 781.3,438.1 780.7,438.2 712.1,438.2 712.1,453.0 785.2,453.0 789.2,452.6 792.4,451.6 795.0,449.8 796.8,447.2 797.8,444.0 798.2,440.0 798.2,429.3 797.8,425.3 796.8,422.1 795.0,419.6 792.4,417.7 789.2,416.7 785.2,416.3 725.9,416.3 725.3,416.2 724.8,416.1 724.4,415.8 724.1,415.4 724.0,414.9 723.9,414.3 723.9,411.3 724.0,410.7 724.1,410.2 724.4,409.8 724.8,409.5 725.3,409.4 725.9,409.3 794.5,409.3 794.5,394.3 721.4,394.3 717.4,394.7 714.2,395.7 711.6,397.6 709.8,400.1 708.8,403.3 708.4,407.3 708.4,418.1 708.8,422.1 709.8,425.3 711.6,427.9 714.2,429.7 717.4,430.7 721.4,431.1 780.7,431.1ZM880.1,431.3 880.5,431.6 880.8,432.0 880.9,432.5 881.0,433.1 881.0,436.2 880.9,436.8 880.8,437.3 880.5,437.7 880.1,438.0 879.6,438.1 879.0,438.2 811.7,438.2 811.7,453.0 883.5,453.0 887.5,452.6 890.7,451.6 893.2,449.8 895.1,447.2 896.1,444.0 896.5,440.0 896.5,429.3 896.1,425.3 895.1,422.1 893.2,419.6 890.7,417.7 887.5,416.7 883.5,416.3 824.3,416.3 823.7,416.2 823.2,416.1 822.8,415.8 822.5,415.4 822.4,414.9 822.3,414.3 822.3,411.3 822.4,410.7 822.5,410.2 822.8,409.8 823.2,409.5 823.7,409.4 824.3,409.3 892.9,409.3 892.9,394.3 819.8,394.3 815.8,394.7 812.6,395.7 810.0,397.6 808.2,400.1 807.2,403.3 806.8,407.3 806.8,418.1 807.2,422.1 808.2,425.3 810.0,427.9 812.6,429.7 815.8,430.7 819.8,431.1 879.0,431.1 879.6,431.2ZM633.5,483.8 647.0,483.8 656.5,460.0 645.0,460.0ZM630.4,491.0 607.9,491.0 607.0,491.2 606.2,491.7 605.7,492.5 605.5,493.4 605.5,509.3 610.2,509.3 610.2,502.5 630.4,502.5 631.3,502.3 632.1,501.8 632.6,501.0 632.8,500.1 632.8,493.4 632.6,492.5 632.1,491.7 631.3,491.2ZM628.1,497.8 610.2,497.8 610.2,495.7 628.1,495.7ZM655.4,491.0 655.4,504.6 640.2,504.6 640.2,491.0 635.5,491.0 635.5,506.9 635.7,507.8 636.2,508.6 637.0,509.1 637.9,509.3 657.8,509.3 658.6,509.1 659.4,508.6 659.9,507.8 660.1,506.9 660.1,491.0ZM689.2,492.5 688.7,491.7 687.9,491.2 687.0,491.0 666.2,491.0 665.4,491.2 664.6,491.7 664.1,492.5 663.9,493.4 663.9,506.9 664.1,507.8 664.6,508.6 665.4,509.1 666.2,509.3 687.0,509.3 687.9,509.1 688.7,508.6 689.2,507.8 689.4,506.9 689.4,493.4ZM668.6,495.7 684.7,495.7 684.7,497.8 668.6,497.8ZM684.7,502.5 684.7,504.6 668.6,504.6 668.6,502.5ZM693.2,506.9 693.4,507.8 693.9,508.6 694.7,509.1 695.6,509.3 711.8,509.3 711.8,504.6 697.9,504.6 697.9,491.0 693.2,491.0ZM715.6,491.0 715.6,509.3 720.5,509.3 720.5,491.0ZM748.4,504.6 728.5,504.6 728.5,495.7 748.4,495.7 748.4,491.0 726.1,491.0 725.3,491.2 724.5,491.7 724.0,492.5 723.8,493.4 723.8,506.9 724.0,507.8 724.5,508.6 725.3,509.1 726.1,509.3 748.4,509.3ZM778.2,495.7 788.4,495.7 788.4,509.3 793.1,509.3 793.1,495.7 803.3,495.7 803.3,491.0 778.2,491.0ZM806.6,491.0 806.6,509.3 811.5,509.3 811.5,491.0ZM838.0,509.1 838.8,508.6 839.3,507.8 839.5,506.9 839.5,493.4 839.3,492.5 838.8,491.7 838.0,491.2 837.1,491.0 817.1,491.0 816.3,491.2 815.5,491.7 815.0,492.5 814.8,493.4 814.8,506.9 815.0,507.8 815.5,508.6 816.3,509.1 817.1,509.3 837.1,509.3ZM819.5,495.7 834.8,495.7 834.8,504.6 819.5,504.6ZM846.6,491.4 845.7,491.0 844.7,491.1 843.8,491.6 843.2,492.4 843.0,493.4 843.0,509.3 847.7,509.3 847.7,497.7 864.6,508.9 865.5,509.3 866.5,509.2 867.4,508.7 868.0,507.9 868.2,506.9 868.2,491.0 863.5,491.0 863.5,502.6ZM892.8,504.6 871.3,504.6 871.3,509.3 895.1,509.3 896.0,509.1 896.8,508.6 897.3,507.8 897.5,506.9 897.5,500.1 897.3,499.3 896.8,498.5 896.0,498.0 895.1,497.8 876.0,497.8 876.0,495.7 897.5,495.7 897.5,491.0 873.6,491.0 872.8,491.2 872.0,491.7 871.5,492.5 871.3,493.4 871.3,500.1 871.5,501.0 872.0,501.8 872.8,502.3 873.6,502.5 892.8,502.5ZM761.3,505.3 770.2,505.3 770.2,509.3 774.9,509.3 774.9,493.4 774.7,492.5 774.3,491.8 773.6,491.2 772.7,491.0 771.9,491.1 771.1,491.5 751.1,507.5 754.1,511.1ZM770.2,498.2 770.2,501.5 766.1,501.5Z" fill="#CFCFCF" fill-rule="evenodd"/>
</svg>
</body></html>
